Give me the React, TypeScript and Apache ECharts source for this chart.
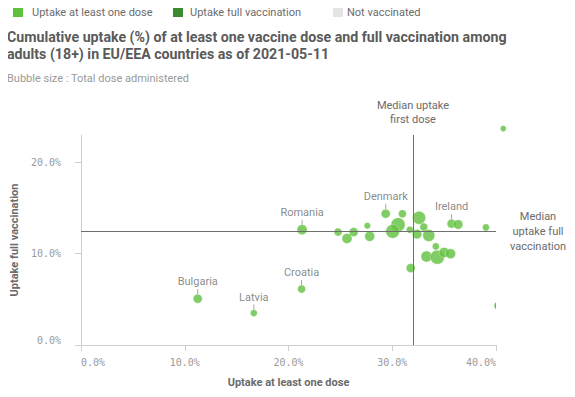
import { useEffect, useRef } from 'react';
import * as echarts from 'echarts';

// ---- data ----
const countryLabels = [
  'Bulgaria', 'Latvia', 'Croatia', 'Romania', '', '', '', '', '', 'Denmark',
  '', '', '', '', '', '', '', '', '', '',
  '', '', '', '', 'Ireland', '', '', '',
];
// Uptake at least one dose (%)
const firstDose = [
  11.25, 16.66, 21.26, 21.31, 24.77, 25.64, 26.28, 27.6, 27.83, 29.37,
  30.98, 30.56, 30.04, 31.69, 32.59, 33.04, 32.39, 33.52, 34.2, 33.3,
  34.35, 35.0, 35.62, 31.78, 35.72, 36.35, 39.03, 40.7,
];
// Uptake full vaccination (%)
const fullVacc = [
  5.07, 3.5, 6.13, 12.63, 12.37, 11.67, 12.37, 13.07, 11.9, 14.38,
  14.38, 13.17, 12.44, 12.63, 13.93, 12.92, 12.15, 12.0, 10.8, 9.7,
  9.62, 10.14, 10.0, 8.43, 13.29, 13.2, 12.88, 23.7,
];
// Bubble size: total doses administered (millions, estimated)
const totalDoses = [
  8.75, 3.2, 5.6, 12.6, 5.6, 12.6, 8.75, 2.2, 12.6, 8.75,
  5.6, 35, 33, 3.2, 28.4, 5.6, 10.6, 22.4, 3.2, 17.2,
  35, 12.6, 12.6, 8.75, 8.75, 10.6, 3.2, 1.4,
];
// Point at the right edge of the plot, clipped by the plot area
const clippedFirstDose = [40.3];
const clippedFullVacc = [4.3];
const clippedDoses = [10.6];

const medianFirstDose = 32.0;
const medianFullVacc = 12.45;

const xTicks = [0, 10, 20, 30, 40];
const yTicks = [0, 10, 20];

const legendNames = ['Uptake at least one dose', 'Uptake full vaccination', 'Not vaccinated'];
const legendColors = ['#5fc23c', '#3d8b2f', '#e4e4e4'];

const titleLines = [
  'Cumulative uptake (%) of at least one vaccine dose and full vaccination among',
  'adults (18+) in EU/EEA countries as of 2021-05-11',
];
const subtitleText = 'Bubble size : Total dose administered';

const GREEN = '#62c13e';
const FONT = 'Roboto, "Noto Sans", sans-serif';

const sizeFor = (doses: number) => 4 + 10 * Math.sqrt(doses / 35);

export default function App() {
  const ref = useRef<HTMLDivElement>(null);

  useEffect(() => {
    if (!ref.current) return;
    const chart = echarts.init(ref.current, undefined, { renderer: 'svg' });

    const mainData = firstDose.map((x, i) => [x, fullVacc[i], totalDoses[i], countryLabels[i]]);
    const labelData = mainData.filter((d) => d[3] !== '');
    const clippedData = clippedFirstDose.map((x, i) => [x, clippedFullVacc[i], clippedDoses[i]]);

    const legendX = [13, 173, 333];
    const legendTextX = [32, 190, 347];
    const legendGraphics: any[] = [];
    legendNames.forEach((name, i) => {
      legendGraphics.push({
        type: 'rect',
        shape: { x: legendX[i], y: 7, width: 10, height: 10 },
        style: { fill: legendColors[i] },
        silent: true,
      });
      legendGraphics.push({
        type: 'text',
        x: legendTextX[i],
        y: 12,
        style: {
          text: name,
          fill: '#6b6b6b',
          font: `11px ${FONT}`,
          verticalAlign: 'middle',
        },
        silent: true,
      });
    });

    chart.setOption({
      animation: false,
      textStyle: { fontFamily: FONT },
      title: [
        {
          text: titleLines.join('\n'),
          left: 7,
          top: 28,
          padding: 0,
          textStyle: {
            fontSize: 14.2,
            fontWeight: 'bold',
            color: '#5a5a5a',
            lineHeight: 17,
            fontFamily: FONT,
          },
        },
        {
          text: subtitleText,
          left: 7,
          top: 73,
          padding: 0,
          textStyle: { fontSize: 11, fontWeight: 'normal', color: '#9a9a9a', fontFamily: FONT },
        },
      ],
      graphic: legendGraphics,
      grid: { left: 81, right: 79, top: 135, bottom: 52, containLabel: false },
      xAxis: {
        type: 'value',
        min: 0,
        max: 40,
        interval: 10,
        name: 'Uptake at least one dose',
        nameLocation: 'middle',
        nameGap: 32,
        nameTextStyle: { fontSize: 11, fontWeight: 'bold', color: '#6b6b6b' },
        axisLine: { show: true, lineStyle: { color: '#cfcfcf' } },
        axisTick: { show: true, length: 6, lineStyle: { color: '#cfcfcf' } },
        splitLine: { show: false },
        axisLabel: {
          formatter: (v: number) => v.toFixed(1) + '%',
          fontFamily: '"DejaVu Sans Mono", monospace',
          fontSize: 10,
          color: '#9a9a9a',
          margin: 12,
          alignMinLabel: 'left',
          alignMaxLabel: 'right',
          customValues: xTicks,
        },
      },
      yAxis: {
        type: 'value',
        min: 0,
        max: 23,
        name: 'Uptake full vaccination',
        nameLocation: 'middle',
        nameGap: 57,
        nameTextStyle: { fontSize: 11, fontWeight: 'bold', color: '#6b6b6b' },
        axisLine: { show: true, lineStyle: { color: '#cfcfcf' } },
        axisTick: { show: true, length: 6, lineStyle: { color: '#cfcfcf' }, customValues: yTicks },
        splitLine: { show: false },
        axisLabel: {
          formatter: (v: number) => v.toFixed(1) + '%',
          fontFamily: '"DejaVu Sans Mono", monospace',
          fontSize: 10,
          color: '#9a9a9a',
          margin: 20,
          verticalAlignMinLabel: 'bottom',
          customValues: yTicks,
        },
      },
      series: [
        {
          type: 'scatter',
          clip: false,
          data: mainData,
          symbolSize: (v: any[]) => sizeFor(v[2]),
          itemStyle: {
            color: GREEN,
            borderColor: 'rgba(255,255,255,0.45)',
            borderWidth: 0.8,
          },
          z: 3,
          markLine: {
            silent: true,
            symbol: ['none', 'none'],
            lineStyle: { color: '#6e6e6e', width: 1, type: 'solid' },
            label: {
              color: '#6b6b6b',
              fontSize: 11,
              lineHeight: 15,
              fontFamily: FONT,
            },
            data: [
              {
                xAxis: medianFirstDose,
                label: { formatter: 'Median uptake\nfirst dose', position: 'end', distance: 9, align: 'center', lineHeight: 14 },
              },
              {
                yAxis: medianFullVacc,
                label: { formatter: 'Median\nuptake full\nvaccination', position: 'end', distance: 42, align: 'center' },
              },
            ],
          },
        },
        {
          type: 'custom',
          clip: true,
          data: clippedData,
          renderItem: (params: any, api: any) => {
            const p = api.coord([api.value(0), api.value(1)]);
            return {
              type: 'circle',
              shape: { cx: p[0], cy: p[1], r: sizeFor(api.value(2)) / 2 },
              style: { fill: GREEN },
            };
          },
          z: 3,
        },
        {
          type: 'scatter',
          clip: false,
          data: labelData,
          symbol: 'rect',
          symbolSize: [1, 5],
          symbolOffset: (v: any[]) => [0, -(sizeFor(v[2]) / 2 + 2.5)],
          itemStyle: { color: '#8a8a8a' },
          label: {
            show: true,
            position: 'top',
            distance: 2,
            formatter: (p: any) => p.value[3],
            color: '#6b6b6b',
            fontSize: 11,
            fontFamily: FONT,
          },
          z: 4,
        },
      ],
    });

    return () => chart.dispose();
  }, []);

  return <div ref={ref} style={{ width: 575, height: 397, margin: -8 }} />;
}
